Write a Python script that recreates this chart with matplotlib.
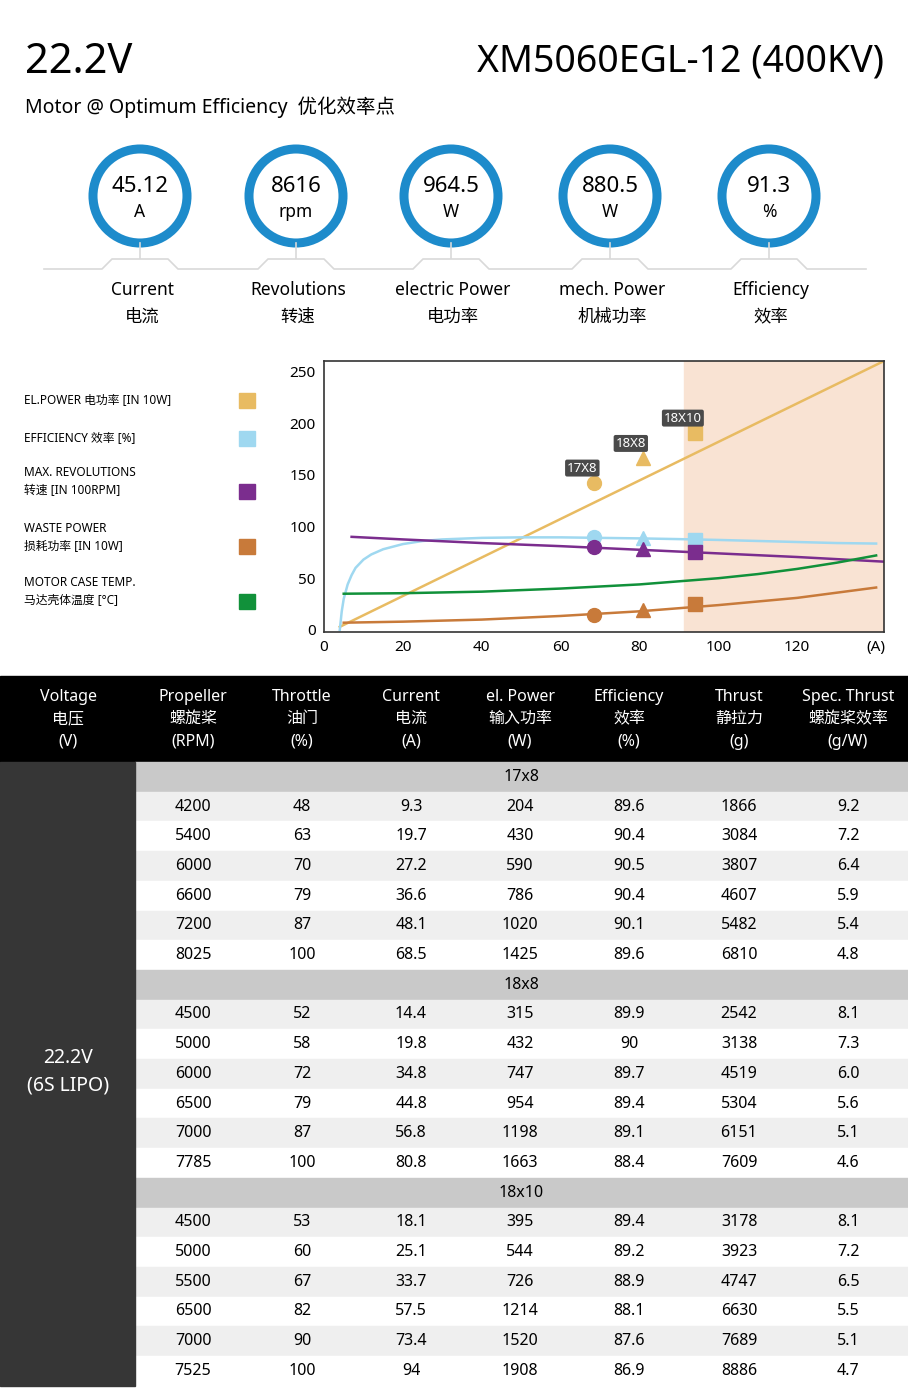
import matplotlib
matplotlib.use("Agg")
import matplotlib.pyplot as plt
from matplotlib.patches import Rectangle, Circle

plt.rcParams['font.family'] = ['Noto Sans', 'Noto Sans CJK SC']

# ---- data ----
kpi_values = ["45.12", "8616", "964.5", "880.5", "91.3"]
kpi_units = ["A", "rpm", "W", "W", "%"]
kpi_en = ["Current", "Revolutions", "electric Power", "mech. Power", "Efficiency"]
kpi_cn = ["电流", "转速", "电功率", "机械功率", "效率"]

legend_labels = ["EL.POWER 电功率 [IN 10W]", "EFFICIENCY 效率 [%]",
                 "MAX. REVOLUTIONS\n转速 [IN 100RPM]", "WASTE POWER\n损耗功率 [IN 10W]",
                 "MOTOR CASE TEMP.\n马达壳体温度 [°C]"]
colors = ["#e8bb62", "#9fd8f0", "#7b2d8e", "#c87a3a", "#11913a"]

elp_x = [4, 142]; elp_y = [3, 260]
eff_x = [4, 4.5, 5, 6, 7, 8, 10, 12, 15, 20, 25, 30, 40, 50, 60, 70, 80, 90, 100, 110, 120, 130, 140]
eff_y = [0, 18, 30, 44, 53, 60, 68, 73, 78, 83, 86, 87.5, 89, 89.5, 89.5, 89, 88.5, 87.8, 87, 86, 85, 84, 83.5]
rev_x = [7, 20, 40, 60, 80, 100, 120, 142]
rev_y = [90, 87.5, 84, 81, 77.5, 74, 70.5, 66]
tmp_x = [5, 20, 40, 60, 80, 90, 100, 110, 120, 130, 140]
tmp_y = [35, 35.5, 37, 40, 44, 47, 50, 54, 59, 65, 72]
wst_x = [5, 20, 40, 60, 80, 90, 100, 110, 120, 130, 140]
wst_y = [7, 8, 10, 13.5, 18, 21, 24, 27.5, 31, 36, 41]

pt_current = [68.5, 80.8, 94]
pt_elp = [142.5, 166.3, 190.8]
pt_eff = [89.6, 88.4, 86.9]
pt_rev = [80.25, 77.85, 75.25]
pt_wst = [14.8, 19.3, 25.0]
pt_labels = ["17X8", "18X8", "18X10"]
pt_markers = ["o", "^", "s"]

headers = [("Voltage", "电压", "(V)"), ("Propeller", "螺旋桨", "(RPM)"), ("Throttle", "油门", "(%)"),
           ("Current", "电流", "(A)"), ("el. Power", "输入功率", "(W)"), ("Efficiency", "效率", "(%)"),
           ("Thrust", "静拉力", "(g)"), ("Spec. Thrust", "螺旋桨效率", "(g/W)")]
sections = ["17x8", "18x8", "18x10"]
table = [
    [[4200, 48, 9.3, 204, 89.6, 1866, 9.2], [5400, 63, 19.7, 430, 90.4, 3084, 7.2],
     [6000, 70, 27.2, 590, 90.5, 3807, 6.4], [6600, 79, 36.6, 786, 90.4, 4607, 5.9],
     [7200, 87, 48.1, 1020, 90.1, 5482, 5.4], [8025, 100, 68.5, 1425, 89.6, 6810, 4.8]],
    [[4500, 52, 14.4, 315, 89.9, 2542, 8.1], [5000, 58, 19.8, 432, 90, 3138, 7.3],
     [6000, 72, 34.8, 747, 89.7, 4519, "6.0"], [6500, 79, 44.8, 954, 89.4, 5304, 5.6],
     [7000, 87, 56.8, 1198, 89.1, 6151, 5.1], [7785, 100, 80.8, 1663, 88.4, 7609, 4.6]],
    [[4500, 53, 18.1, 395, 89.4, 3178, 8.1], [5000, 60, 25.1, 544, 89.2, 3923, 7.2],
     [5500, 67, 33.7, 726, 88.9, 4747, 6.5], [6500, 82, 57.5, 1214, 88.1, 6630, 5.5],
     [7000, 90, 73.4, 1520, 87.6, 7689, 5.1], [7525, 100, 94, 1908, 86.9, 8886, 4.7]],
]

W, H = 908, 1400
fig = plt.figure(figsize=(W / 100, H / 100), dpi=100)
bg = fig.add_axes([0, 0, 1, 1])
bg.set_xlim(0, W); bg.set_ylim(H, 0); bg.axis('off')

# title
bg.text(25, 62, "22.2V", fontsize=30, va='center', ha='left')
bg.text(884, 62, "XM5060EGL-12 (400KV)", fontsize=27, va='center', ha='right')
bg.text(25, 107, "Motor @ Optimum Efficiency  优化效率点", fontsize=14, va='center', ha='left')

# KPI circles
cx = [140, 296, 451, 610, 769]
bx = [44]
for x in cx:
    bg.add_patch(Circle((x, 196), 47, fill=False, ec="#1d8bcb", lw=6.5))
    bg.plot([x, x], [243, 258], color="#d9d9d9", lw=1.2)
line_x = [44]; line_y = [269]
for x in cx:
    line_x += [x - 38, x - 28, x + 28, x + 38]; line_y += [269, 259, 259, 269]
line_x.append(866); line_y.append(269)
bg.plot(line_x, line_y, color="#d9d9d9", lw=1.2)
for x, v, u, e, c in zip(cx, kpi_values, kpi_units, kpi_en, kpi_cn):
    bg.text(x, 187, v, fontsize=16, ha='center', va='center')
    bg.text(x, 212, u, fontsize=12.5, ha='center', va='center')
    bg.text(x + 2, 290, e, fontsize=12.5, ha='center', va='center')
    bg.text(x + 2, 317, c, fontsize=12.5, ha='center', va='center')

# legend
ly = [400, 438, 482, 537, 592]
for y, lab, col in zip(ly, legend_labels, colors):
    bg.text(24, y, lab, fontsize=8.5, ha='left', va='center', linespacing=1.5)
    bg.add_patch(Rectangle((239, y - 7 if '\n' not in lab else y + 2), 16, 15, color=col))

# chart
ax = fig.add_axes([324 / W, 1 - 632 / H, 560 / W, 271 / H])
ax.set_xlim(0, 142); ax.set_ylim(-2, 260)
ax.axvspan(91.4, 142, color="#f9e3d3", zorder=0)
ax.plot(elp_x, elp_y, color=colors[0], lw=1.8)
ax.plot(eff_x, eff_y, color=colors[1], lw=1.8)
ax.plot(rev_x, rev_y, color=colors[2], lw=1.8)
ax.plot(tmp_x, tmp_y, color=colors[4], lw=1.8)
ax.plot(wst_x, wst_y, color=colors[3], lw=1.8)
for i in range(3):
    m = pt_markers[i]
    for yv, col in zip([pt_elp[i], pt_eff[i], pt_rev[i], pt_wst[i]], [colors[0], colors[1], colors[2], colors[3]]):
        ax.plot(pt_current[i], yv, marker=m, color=col, ms=10, zorder=5)
    ax.text(pt_current[i] - 3, pt_elp[i] + 14, pt_labels[i], fontsize=9.5, color='white', ha='center',
            va='center', bbox=dict(boxstyle='round,pad=0.15', fc='#4a4a4a', ec='none'), zorder=6)
ax.set_xticks([0, 20, 40, 60, 80, 100, 120, 140])
ax.set_xticklabels(["0", "20", "40", "60", "80", "100", "120", "(A)"])
ax.set_yticks([0, 50, 100, 150, 200, 250])
ax.tick_params(length=0, labelsize=11, pad=6)
for s in ax.spines.values():
    s.set_color("#333333"); s.set_linewidth(1.2)

# table
bg.add_patch(Rectangle((0, 676), W, 86, color="black"))
colx = [68, 193, 302, 411, 520, 629, 739, 848]
for x, (a, b, c) in zip(colx, headers):
    bg.text(x, 697, a, color='white', fontsize=11.5, ha='center', va='center')
    bg.text(x, 719, b, color='white', fontsize=11.5, ha='center', va='center')
    bg.text(x, 742, c, color='white', fontsize=11.5, ha='center', va='center')
rh = 29.7
y = 762
y_start = y
for s, rows in zip(sections, table):
    bg.add_patch(Rectangle((135, y), W - 135, rh, color="#c9c9c9"))
    bg.text(521, y + rh / 2, s, fontsize=11.5, fontweight='bold', ha='center', va='center')
    y += rh
    for k, r in enumerate(rows):
        bg.add_patch(Rectangle((135, y), W - 135, rh, color="#efefef" if k % 2 == 0 else "white"))
        for x, v in zip(colx[1:], r):
            bg.text(x, y + rh / 2, str(v), fontsize=11.5, ha='center', va='center')
        y += rh
bg.add_patch(Rectangle((0, y_start), 135, y - y_start, color="#363636"))
bg.text(68, 1058, "22.2V", color='white', fontsize=14, ha='center', va='center')
bg.text(68, 1086, "(6S LIPO)", color='white', fontsize=14, ha='center', va='center')

fig.savefig("out.png", dpi=100)
